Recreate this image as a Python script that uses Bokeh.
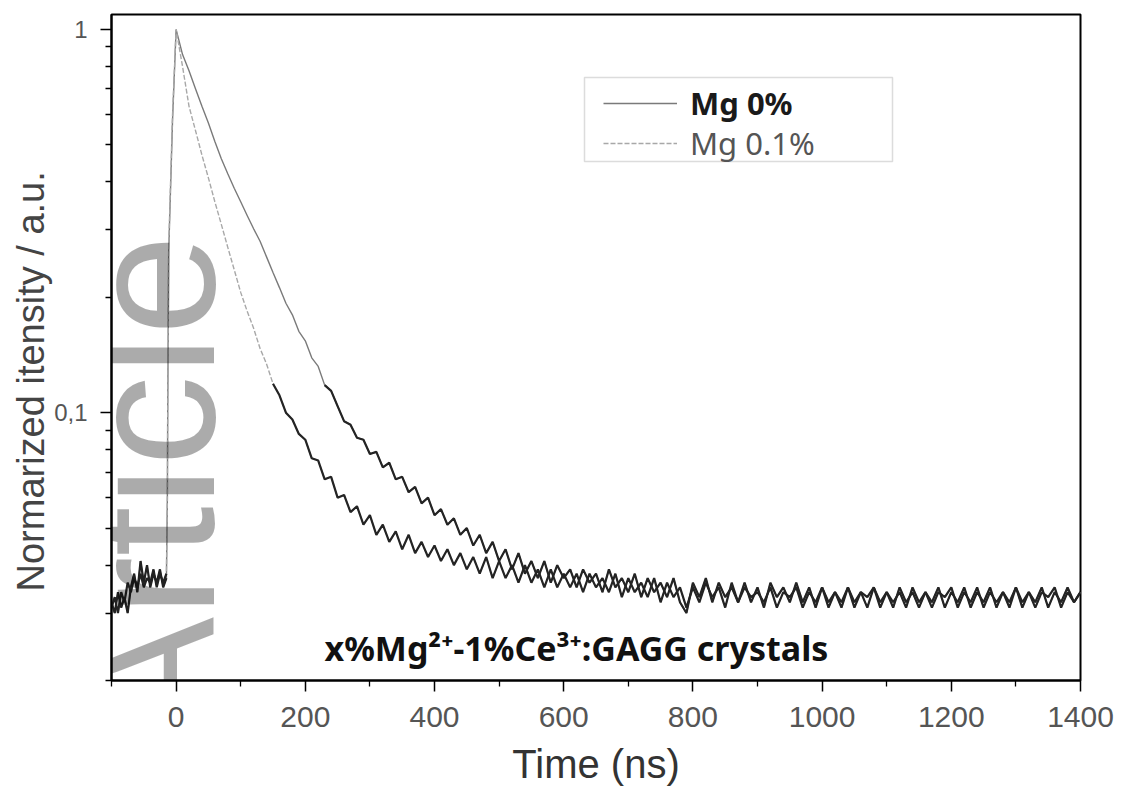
import math
from bokeh.plotting import figure
from bokeh.models import FixedTicker, Label, Legend, LegendItem, BoxAnnotation, Title
from bokeh.embed import file_html
from bokeh.resources import INLINE

# ---- data ----
T_PRE = [-100, -95, -90, -85, -80, -75, -70, -65, -60, -55, -50, -45, -40, -35,
         -30, -25, -20, -15, -13.5, -13, -11.5, -5.5]
MG0_PRE = [0.032, 0.030, 0.034, 0.031, 0.033, 0.030, 0.035, 0.038, 0.034, 0.041,
           0.036, 0.040, 0.035, 0.038, 0.036, 0.039, 0.035, 0.037, 0.06, 0.1, 0.26, 0.58]
MG01_PRE = [0.031, 0.033, 0.030, 0.034, 0.032, 0.036, 0.034, 0.037, 0.035, 0.038,
            0.035, 0.037, 0.036, 0.039, 0.035, 0.038, 0.036, 0.038, 0.06, 0.1, 0.27, 0.60]

# main record, one value every 10 ns from 0 to 1400 ns
MG0_MAIN = [
    1.0, 0.86, 0.78, 0.70, 0.63, 0.57, 0.51, 0.46, 0.42, 0.385,
    0.355, 0.327, 0.302, 0.280, 0.255, 0.232, 0.212, 0.193, 0.180, 0.163,
    0.154, 0.139, 0.132, 0.118, 0.114, 0.104, 0.095, 0.093, 0.086, 0.085,
    0.078, 0.079, 0.072, 0.074, 0.067, 0.068, 0.062, 0.064, 0.058, 0.060,
    0.054, 0.056, 0.051, 0.053, 0.048, 0.050, 0.045, 0.048, 0.043, 0.046,
    0.041, 0.044, 0.039, 0.043, 0.038, 0.041, 0.037, 0.041, 0.036, 0.040,
    0.037, 0.039, 0.035, 0.039, 0.036, 0.038, 0.034, 0.039, 0.035, 0.037,
    0.034, 0.038, 0.033, 0.037, 0.034, 0.036, 0.033, 0.037, 0.032, 0.030,
    0.036, 0.033, 0.037, 0.032, 0.036, 0.033, 0.035, 0.032, 0.036, 0.032,
    0.035, 0.031, 0.036, 0.033, 0.035, 0.032, 0.036, 0.032, 0.035, 0.031,
    0.035, 0.032, 0.034, 0.031, 0.035, 0.032, 0.034, 0.031, 0.035, 0.032,
    0.034, 0.031, 0.035, 0.032, 0.034, 0.031, 0.034, 0.032, 0.035, 0.031,
    0.034, 0.032, 0.035, 0.031, 0.034, 0.032, 0.035, 0.031, 0.034, 0.032,
    0.035, 0.031, 0.034, 0.032, 0.035, 0.031, 0.034, 0.032, 0.035, 0.032,
    0.034,
]
MG01_MAIN = [
    1.0, 0.80, 0.63, 0.545, 0.47, 0.41, 0.355, 0.31, 0.27, 0.236,
    0.206, 0.184, 0.166, 0.147, 0.134, 0.119, 0.111, 0.100, 0.096, 0.088,
    0.085, 0.076, 0.075, 0.067, 0.068, 0.060, 0.061, 0.055, 0.057, 0.051,
    0.054, 0.048, 0.051, 0.046, 0.049, 0.044, 0.048, 0.043, 0.046, 0.042,
    0.045, 0.041, 0.044, 0.040, 0.043, 0.039, 0.042, 0.038, 0.042, 0.037,
    0.041, 0.037, 0.040, 0.036, 0.040, 0.036, 0.039, 0.035, 0.039, 0.035,
    0.038, 0.035, 0.038, 0.034, 0.038, 0.035, 0.037, 0.034, 0.038, 0.033,
    0.037, 0.034, 0.036, 0.033, 0.037, 0.032, 0.036, 0.033, 0.035, 0.031,
    0.035, 0.032, 0.036, 0.033, 0.035, 0.031, 0.036, 0.032, 0.035, 0.033,
    0.034, 0.032, 0.035, 0.031, 0.034, 0.033, 0.035, 0.031, 0.034, 0.032,
    0.035, 0.031, 0.034, 0.032, 0.035, 0.031, 0.034, 0.033, 0.035, 0.031,
    0.034, 0.032, 0.034, 0.031, 0.035, 0.032, 0.034, 0.031, 0.034, 0.033,
    0.035, 0.031, 0.034, 0.032, 0.035, 0.031, 0.034, 0.032, 0.034, 0.031,
    0.035, 0.032, 0.034, 0.031, 0.034, 0.033, 0.035, 0.031, 0.034, 0.032,
    0.034,
]
T_MAIN = [10 * i for i in range(len(MG0_MAIN))]

SERIES = ["Mg 0%", "Mg 0.1%"]
X_TICKS = [0, 200, 400, 600, 800, 1000, 1200, 1400]
X_MINOR = [-100, 100, 300, 500, 700, 900, 1100, 1300]
Y_TICKS = [0.1, 1]
Y_TICK_LABELS = {0.1: "0,1", 1: "1"}
Y_MINOR = [0.02, 0.03, 0.04, 0.05, 0.06, 0.07, 0.08, 0.09,
           0.2, 0.3, 0.4, 0.5, 0.6, 0.7, 0.8, 0.9]

T0 = T_PRE + T_MAIN
V0 = MG0_PRE + MG0_MAIN
T1 = T_PRE + T_MAIN
V1 = MG01_PRE + MG01_MAIN
N_PRE_NOISE = 18  # pre-trigger noisy part

p = figure(width=1118, height=788, x_range=(-100, 1400), y_range=(0.02, 1.094),
           y_axis_type="log", output_backend="svg", toolbar_location=None,
           min_border_left=111, min_border_right=38, min_border_top=14,
           min_border_bottom=107)
p.xgrid.visible = False
p.ygrid.visible = False
p.outline_line_color = "black"
p.outline_line_width = 2
p.background_fill_color = "white"
p.border_fill_color = "white"

# base curves (used by legend)
r0 = p.line(T0, V0, line_color="#7a7a7a", line_width=1.4)
r1 = p.line(T1, V1, line_color="#a8a8a8", line_width=1.4, line_dash="5 2")

# darker noisy parts
i0 = T0.index(230)
i1 = T1.index(150)
p.line(T0[:N_PRE_NOISE], V0[:N_PRE_NOISE], line_color="#222222", line_width=2.2)
p.line(T1[:N_PRE_NOISE], V1[:N_PRE_NOISE], line_color="#222222", line_width=2.2)
p.line(T1[i1:], V1[i1:], line_color="#242424", line_width=2.2)
p.line(T0[i0:], V0[i0:], line_color="#242424", line_width=2.2)

# axes
for ax in (p.xaxis[0], p.yaxis[0]):
    ax.axis_line_width = 2
    ax.axis_line_color = "black"
    ax.major_tick_line_width = 1.5
    ax.minor_tick_line_width = 1.3
    ax.major_tick_out = 11
    ax.major_tick_in = 0
    ax.minor_tick_out = 6
    ax.minor_tick_in = 0
    ax.major_label_text_font = "Liberation Sans"
    ax.major_label_text_color = "#555555"

p.xaxis.ticker = FixedTicker(ticks=X_TICKS, minor_ticks=X_MINOR)
p.xaxis.major_label_text_font_size = "30px"
p.xaxis.major_label_standoff = 15
p.xaxis.axis_label = "Time (ns)"
p.xaxis.axis_label_text_font = "Liberation Sans"
p.xaxis.axis_label_text_font_size = "40px"
p.xaxis.axis_label_text_font_style = "normal"
p.xaxis.axis_label_text_color = "#333333"
p.xaxis.axis_label_standoff = 12

p.yaxis.ticker = FixedTicker(ticks=Y_TICKS, minor_ticks=Y_MINOR)
p.yaxis.major_label_overrides = Y_TICK_LABELS
p.yaxis.major_label_text_font_size = "24px"
p.yaxis.major_label_standoff = 13

# y axis title (in the left panel)
p.add_layout(Title(text="Normarized itensity / a.u.", align="left", offset=89,
                   standoff=0, text_font="Liberation Sans", text_font_size="38px",
                   text_font_style="normal", text_color="#444444"), "left")

# inner caption
p.add_layout(Label(x=213, y=33, x_units="screen", y_units="screen",
                   text="x%Mg²⁺-1%Ce³⁺:GAGG crystals",
                   text_align="left", text_baseline="middle",
                   text_font="Noto Sans", text_font_size="34px",
                   text_font_style="bold", text_color="#111111"))

# legend box and entries
p.add_layout(BoxAnnotation(left=473, right=781, top=603, bottom=519,
                           left_units="screen", right_units="screen",
                           top_units="screen", bottom_units="screen",
                           fill_color="white", fill_alpha=0.0,
                           line_color="#8a8a8a", line_width=1.5))

def make_legend(label, rend, loc, style, color):
    return Legend(items=[LegendItem(label=label, renderers=[rend])],
                  location=loc, padding=0, margin=0, spacing=0,
                  border_line_alpha=0, background_fill_alpha=0,
                  glyph_width=74, glyph_height=42, label_height=42,
                  label_standoff=13, label_text_font="Noto Sans",
                  label_text_font_size="31px", label_text_font_style=style,
                  label_text_color=color)

p.add_layout(make_legend(SERIES[0], r0, (492, 556), "bold", "#1a1a1a"))
p.add_layout(make_legend(SERIES[1], r1, (492, 516), "normal", "#555555"))

# journal watermark
p.add_layout(Label(x=39, y=-57, x_units="screen", y_units="screen",
                   text="Article", angle=math.pi / 2,
                   text_align="left", text_baseline="middle",
                   text_font="Liberation Sans", text_font_size="181px",
                   text_color="black", text_alpha=0.33))

open("out.html", "w").write(file_html(p, INLINE))
